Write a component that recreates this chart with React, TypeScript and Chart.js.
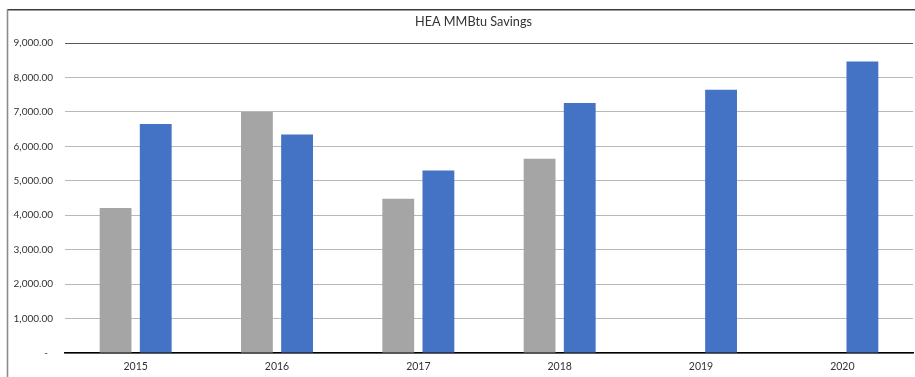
import React, { useEffect, useRef } from "react";
import { Chart, registerables } from "chart.js";

Chart.register(...registerables);

const TITLE = "HEA MMBtu Savings";
const YEARS = ["2015", "2016", "2017", "2018", "2019", "2020"];
const GRAY_SERIES = [4210, 7000, 4480, 5640, null, null];
const BLUE_SERIES = [6650, 6340, 5300, 7260, 7640, 8460];
const Y_MIN = 0;
const Y_MAX = 9000;
const Y_STEP = 1000;

const FONT = "Lato, 'Open Sans', sans-serif";

const framePlugin = {
  id: "frameAndTitle",
  beforeDraw(chart: any) {
    const ctx = chart.ctx;
    ctx.save();
    ctx.fillStyle = "#ffffff";
    ctx.fillRect(0, 0, chart.width, chart.height);
    // top border
    ctx.strokeStyle = "#3a3a3a";
    ctx.lineWidth = 1.5;
    ctx.beginPath();
    ctx.moveTo(7, 9.75);
    ctx.lineTo(chart.width, 9.75);
    ctx.stroke();
    // left border
    ctx.strokeStyle = "#8c8c8c";
    ctx.lineWidth = 1.6;
    ctx.beginPath();
    ctx.moveTo(7.5, 9);
    ctx.lineTo(7.5, chart.height);
    ctx.stroke();
    // title
    ctx.fillStyle = "#333333";
    ctx.font = `12.7px ${FONT}`;
    ctx.textAlign = "center";
    ctx.textBaseline = "alphabetic";
    ctx.fillText(TITLE, 473.5, 25.5);
    ctx.restore();
  },
};

export default function App() {
  const ref = useRef<HTMLCanvasElement | null>(null);

  useEffect(() => {
    if (!ref.current) return;
    const chart = new Chart(ref.current, {
      type: "bar",
      data: {
        labels: YEARS,
        datasets: [
          {
            label: "Series 1",
            data: GRAY_SERIES,
            backgroundColor: "#A5A5A5",
            borderWidth: 0,
            categoryPercentage: 0.568,
            barPercentage: 0.793,
          },
          {
            label: "Series 2",
            data: BLUE_SERIES,
            backgroundColor: "#4472C4",
            borderWidth: 0,
            categoryPercentage: 0.568,
            barPercentage: 0.793,
          },
        ],
      },
      options: {
        responsive: false,
        animation: false,
        layout: { padding: { top: 43, right: 2, left: 0, bottom: 0 } },
        plugins: {
          legend: { display: false },
          title: { display: false },
          tooltip: { enabled: false },
        },
        scales: {
          x: {
            grid: { display: false, drawTicks: false },
            border: { display: true, color: "#000000", width: 1.5 },
            ticks: {
              padding: 7,
              color: "#333333",
              font: { family: FONT, size: 10.5 },
              maxRotation: 0,
            },
            afterFit: (s: any) => {
              s.height = 24;
            },
          },
          y: {
            min: Y_MIN,
            max: Y_MAX,
            ticks: {
              stepSize: Y_STEP,
              padding: 12,
              color: "#333333",
              font: { family: FONT, size: 10 },
              callback: (v: any) =>
                Number(v) === 0
                  ? "-  "
                  : Number(v).toLocaleString("en-US", {
                      minimumFractionDigits: 2,
                      maximumFractionDigits: 2,
                    }),
            },
            grid: {
              drawTicks: false,
              lineWidth: 1,
              color: (c: any) =>
                c.tick && c.tick.value === Y_MAX ? "#5a5a5a" : "#b8b8b8",
            },
            border: { display: false },
            afterFit: (s: any) => {
              s.width = 65;
            },
          },
        },
      },
      plugins: [framePlugin],
    });
    return () => chart.destroy();
  }, []);

  return (
    <div style={{ position: "fixed", left: 0, top: 0, width: 915, height: 377 }}>
      <canvas ref={ref} width={915} height={377} style={{ display: "block" }} />
    </div>
  );
}
